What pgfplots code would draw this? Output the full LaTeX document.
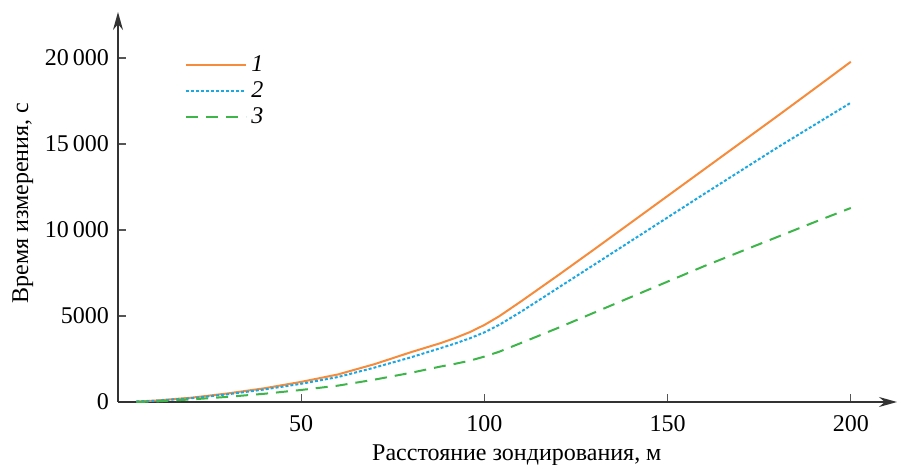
\documentclass[border=0pt]{standalone}
\usepackage{fontspec}
\setmainfont{Liberation Serif}
\usepackage{pgfplots}
\pgfplotsset{compat=1.18}
\usetikzlibrary{arrows.meta}
\definecolor{corange}{HTML}{F58B3B}
\definecolor{cblue}{HTML}{1AA7E2}
\definecolor{cgreen}{HTML}{3DB54A}
\definecolor{cgrey}{HTML}{555555}
\begin{document}
\begin{tikzpicture}
\begin{axis}[
  at={(0,0)}, anchor=south west,
  scale only axis,
  width=389.5pt, height=195pt,
  xmin=0, xmax=212.6, ymin=0, ymax=22674,
  axis lines=left,
  axis line style={line width=0.8pt, color=black!80, -{Stealth[length=9pt,width=5pt]}},
  /pgf/number format/assume math mode=true,
  xtick={50,100,150,200},
  ytick={0,5000,10000,15000,20000},
  yticklabels={0,5000,10\,000,15\,000,20\,000},
  xticklabels={50,100,150,200},
  tick style={color=cgrey, line width=0.6pt},
  tick align=inside,
  major tick length=4pt,
  font=\fontsize{12}{14}\selectfont,
  xticklabel style={yshift=-3pt},
  yticklabel style={xshift=-1pt},
  xlabel={Расстояние зондирования, м},
  ylabel={Время измерения, с},
  xlabel style={at={(axis description cs:0.512,-0.149)}, anchor=base},
  ylabel style={at={(axis description cs:-0.1155,0.51)}, anchor=base},
  clip=false,
  legend style={at={(axis description cs:0.086,0.90)}, anchor=north west, draw=none, fill=none, font=\fontsize{12}{14}\selectfont\itshape, row sep=-0.5pt, inner sep=0pt},
  legend cell align=left,
  legend image code/.code={\draw[#1] (0pt,0pt) -- (30pt,0pt);},
]
\addplot[corange, line width=1pt] coordinates {
(5,30)(10,80)(20,250)(30,500)(40,800)(50,1170)(60,1600)(70,2200)(80,2900)(88,3420)(92,3720)(96,4060)(100,4480)(104,4980)(110,5850)(120,7350)(130,8880)(140,10430)(150,11980)(160,13530)(170,15080)(180,16630)(190,18200)(200,19780)};
\addlegendentry{1}
\addplot[cblue, line width=1pt, dash pattern=on 1.5pt off 1pt] coordinates {
(5,30)(10,70)(20,220)(30,450)(40,730)(50,1060)(60,1450)(70,2000)(80,2600)(88,3130)(92,3400)(96,3700)(100,4050)(104,4480)(110,5250)(120,6620)(130,7990)(140,9360)(150,10730)(160,12100)(170,13450)(180,14800)(190,16100)(200,17400)};
\addlegendentry{2}
\addplot[cgreen, line width=1pt, dash pattern=on 6pt off 4pt] coordinates {
(5,0)(10,30)(20,150)(30,300)(40,480)(50,700)(60,950)(70,1300)(80,1700)(88,2060)(92,2220)(96,2400)(100,2640)(104,2920)(110,3430)(120,4300)(130,5200)(140,6100)(150,7000)(160,7900)(170,8750)(180,9600)(190,10450)(200,11280)};
\addlegendentry{3}
\end{axis}
\pgfresetboundingbox
\path (-59pt,-31.5pt) rectangle (391.5pt,201pt);
\end{tikzpicture}
\end{document}
